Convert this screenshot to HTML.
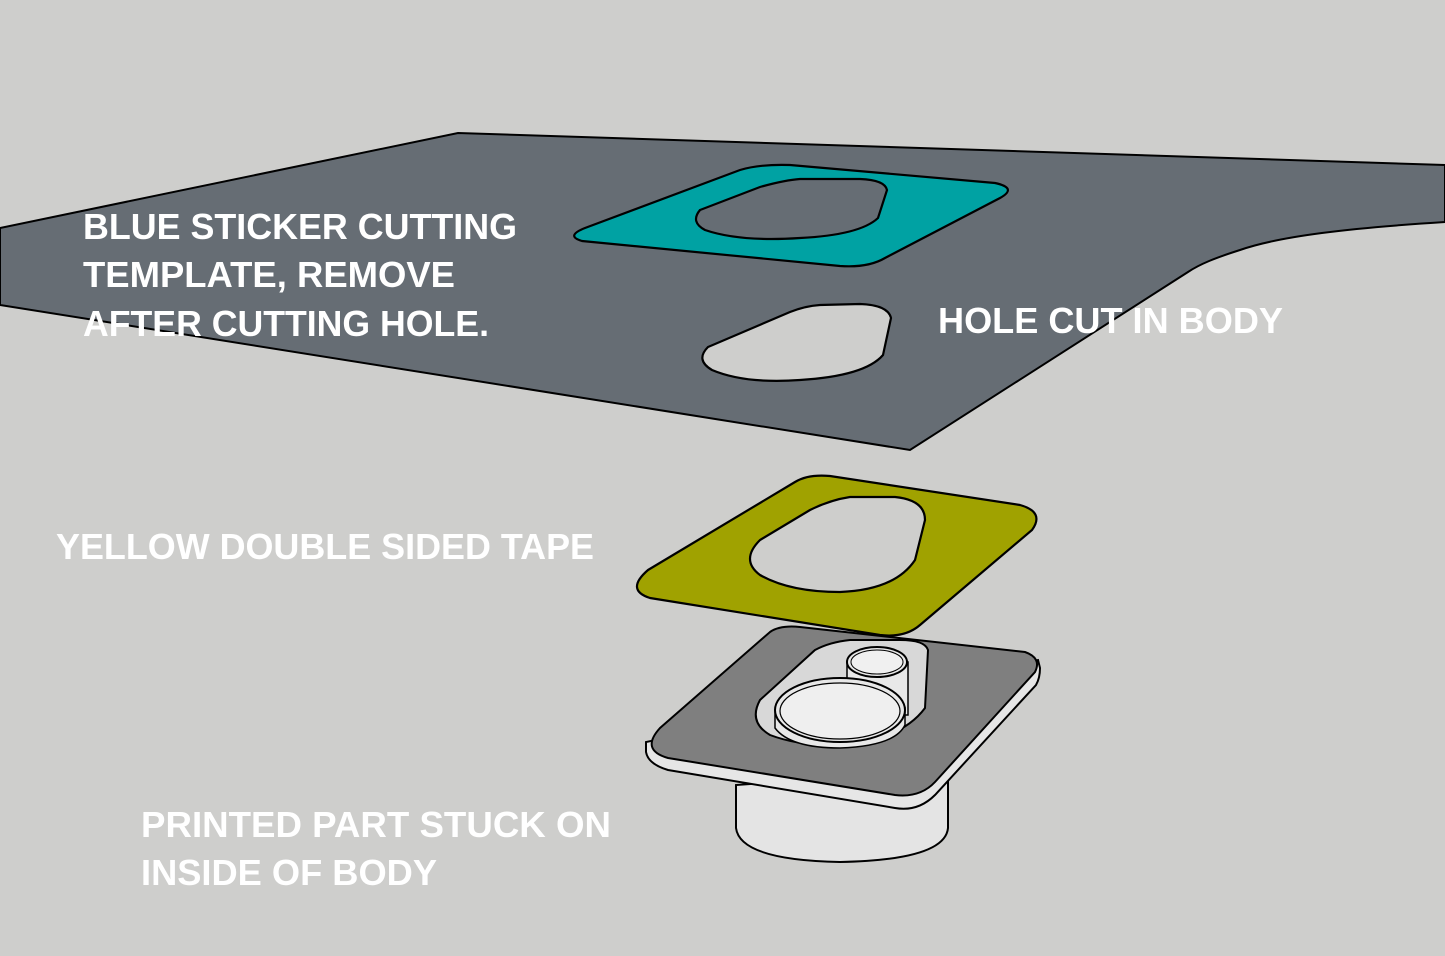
<!DOCTYPE html>
<html><head><meta charset="utf-8"><style>
html,body{margin:0;padding:0;background:#cececc;}
svg{display:block}
text{font-family:"Liberation Sans",sans-serif;font-weight:bold;fill:#fff;font-size:36px}
</style></head><body>
<svg width="1445" height="956" viewBox="0 0 1445 956" xmlns="http://www.w3.org/2000/svg">
<rect width="1445" height="956" fill="#cececc"/>
<!-- body sheet -->
<path d="M0,228 L458,133 L1445,165 L1445,222 C1350,228 1280,236 1240,250 C1215,258 1200,264 1188,272 L910,450 L0,305 Z" fill="#666d74" stroke="#000" stroke-width="2"/>
<!-- teal template -->
<path d="M585,228 L740,170 Q760,164 790,165 L995,183 Q1018,188 1000,198 L885,258 Q868,268 840,266 L582,241 Q565,236 585,228 Z" fill="#00a2a3" stroke="#000" stroke-width="2.2"/>
<path d="M700,210 Q690,222 705,230 Q740,242 800,238 Q860,235 878,218 L887,190 Q885,180 860,179 L800,179 Q785,180 760,187 Z" fill="#666d74" stroke="#000" stroke-width="2.2"/>
<!-- hole -->
<path d="M708,347 Q695,360 712,370 Q745,384 800,380 Q865,376 883,355 L891,318 Q888,305 860,304 L820,305 Q805,306 790,312 Z" fill="#cececc" stroke="#000" stroke-width="2.2"/>
<!-- printed part: cylinder -->
<path d="M736,785 L736,828 Q740,860 840,862 Q945,860 948,828 L948,770 Z" fill="#e4e4e4" stroke="#000" stroke-width="2"/>
<!-- plate side -->
<path d="M646,742 L646,752 Q648,764 668,770 L895,808 Q918,812 935,795 L1036,685 Q1040,678 1040,668 L1038,660 Z" fill="#e6e6e6" stroke="#000" stroke-width="2"/>
<!-- plate top -->
<path d="M660,728 L770,632 Q780,625 800,627 L1025,652 Q1042,658 1035,672 L935,782 Q920,798 895,795 L668,758 Q640,750 660,728 Z" fill="#7f7f7f" stroke="#000" stroke-width="2"/>
<!-- hole in plate -->
<path d="M760,700 Q748,722 770,735 Q810,750 860,742 Q905,735 925,708 L928,650 Q925,640 900,640 L850,640 Q830,642 815,650 Z" fill="#d8d8d8" stroke="#000" stroke-width="2"/>
<!-- small tube -->
<path d="M847,662 L847,715 L908,715 L908,662 Z" fill="#e8e8e8" stroke="#000" stroke-width="1.5"/>
<ellipse cx="877" cy="662" rx="30" ry="15" fill="#e8e8e8" stroke="#000" stroke-width="2"/>
<ellipse cx="877" cy="662" rx="26" ry="12" fill="#f0f0f0" stroke="#000" stroke-width="1"/>
<!-- big ring -->
<path d="M775,710 L775,728 Q790,748 840,748 Q895,746 905,725 L905,708 Z" fill="#e8e8e8" stroke="#000" stroke-width="1.5"/>
<ellipse cx="840" cy="710" rx="65" ry="32" fill="#e8e8e8" stroke="#000" stroke-width="2"/>
<ellipse cx="840" cy="711" rx="60" ry="28" fill="#efefef" stroke="#000" stroke-width="1.2"/>
<!-- yellow tape -->
<path d="M648,570 L795,482 Q808,474 830,476 L1020,505 Q1045,512 1032,530 L920,625 Q905,638 880,635 L650,598 Q625,590 648,570 Z" fill="#a0a200" stroke="#000" stroke-width="2.2"/>
<path d="M760,540 Q740,560 760,575 Q790,592 840,592 Q895,590 915,560 L925,520 Q925,500 895,497 L850,497 Q830,500 810,510 Z" fill="#cececc" stroke="#000" stroke-width="2.2"/>
<!-- labels -->
<text x="83" y="239" textLength="434" lengthAdjust="spacingAndGlyphs">BLUE STICKER CUTTING</text>
<text x="83" y="287" textLength="372" lengthAdjust="spacingAndGlyphs">TEMPLATE, REMOVE</text>
<text x="83" y="336" textLength="406" lengthAdjust="spacingAndGlyphs">AFTER CUTTING HOLE.</text>
<text x="938" y="333" textLength="345" lengthAdjust="spacingAndGlyphs">HOLE CUT IN BODY</text>
<text x="56" y="559" textLength="538" lengthAdjust="spacingAndGlyphs">YELLOW DOUBLE SIDED TAPE</text>
<text x="141" y="837" textLength="470" lengthAdjust="spacingAndGlyphs">PRINTED PART STUCK ON</text>
<text x="141" y="885" textLength="296" lengthAdjust="spacingAndGlyphs">INSIDE OF BODY</text>
</svg>
</body></html>
